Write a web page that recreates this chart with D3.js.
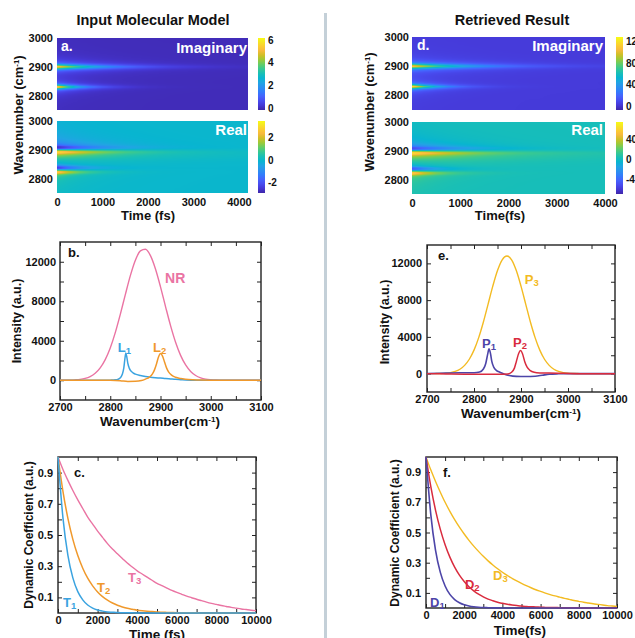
<!DOCTYPE html>
<html>
<head>
<meta charset="utf-8">
<script src="https://cdn.jsdelivr.net/npm/d3@7"></script>
<style>
  body { margin: 0; background: #fff; }
  svg { display: block; }
  text { font-family: "Liberation Sans", Arial, sans-serif; font-weight: bold; }
  .ax text { font-size: 11px; fill: #111; }
</style>
</head>
<body>
<svg id="fig" width="635" height="638"></svg>
<script>
// ---------------- data ----------------
// time grid (fs) for the dynamic coefficients
const dynT = d3.range(0, 10001, 250);
// input model dynamics
const dynT1 = [1.000,0.610,0.370,0.225,0.137,0.084,0.051,0.031,0.019,0.012,0.007,0.005,0.003,0.002,0.001,0.001,
  0,0,0,0,0,0,0,0,0,0,0,0,0,0,0,0,0,0,0,0,0,0,0,0,0];
const dynT2 = [1.000,0.780,0.607,0.472,0.368,0.287,0.223,0.174,0.135,0.105,0.082,0.064,0.050,0.039,0.030,0.024,
  0.018,0.014,0.011,0.009,0.007,0.005,0.004,0.003,0.002,0.002,0.001,0.001,0.001,0,0,0,0,0,0,0,0,0,0,0,0];
const dynT3 = [1.00,0.92,0.85,0.785,0.725,0.67,0.615,0.57,0.525,0.485,0.445,0.41,0.38,0.35,0.32,0.295,0.27,0.25,
  0.23,0.21,0.19,0.175,0.16,0.145,0.132,0.12,0.108,0.098,0.088,0.079,0.07,0.062,0.055,0.048,0.042,0.036,0.031,
  0.026,0.022,0.018,0.015];
// retrieved dynamics
const dynD1 = [1.000,0.620,0.382,0.236,0.146,0.090,0.056,0.035,0.021,0.013,0.008,0.005,0.003,0.002,0.001,0.001,
  0,0,0,0,0,0,0,0,0,0,0,0,0,0,0,0,0,0,0,0,0,0,0,0,0];
const dynD2 = [1.000,0.805,0.647,0.521,0.419,0.337,0.271,0.218,0.176,0.141,0.114,0.092,0.074,0.059,0.048,0.038,
  0.031,0.025,0.020,0.016,0.013,0.010,0.008,0.007,0.005,0.004,0.003,0.003,0.002,0.002,0.001,0.001,0.001,
  0,0,0,0,0,0,0,0];
const dynD3 = [1.000,0.915,0.838,0.767,0.700,0.640,0.585,0.535,0.490,0.448,0.410,0.375,0.342,0.312,0.285,0.260,
  0.237,0.216,0.197,0.179,0.163,0.148,0.134,0.121,0.110,0.099,0.089,0.080,0.072,0.064,0.057,0.050,0.044,0.038,
  0.033,0.028,0.024,0.020,0.016,0.013,0.010];

// spectra (intensity, a.u.)
const specWn = d3.range(2700, 3101, 10);
const nrVal = [0,5,15,40,85,185,370,700,1250,2090,3270,4820,6670,8670,10590,12150,13100,13260,12620,11270,
  9460,7460,5530,3850,2520,1545,890,480,245,115,55,22,9,3,1,0,0,0,0,0,0];
const p3Val = [0,3,8,20,50,115,240,475,900,1565,2560,3920,5620,7570,9520,11220,12390,12800,12390,11220,
  9520,7570,5620,3920,2560,1565,900,475,240,115,50,20,8,3,0,0,0,0,0,0,0];
const l1Wn  = [2700,2790,2800,2810,2815,2820,2824,2827,2829,2831,2833,2835,2838,2842,2846,2850,2860,2870,2880,
  2890,2900,2910,2920,2930,2940,2950,2960,2980,3000,3100];
const l1Val = [0,0,10,40,90,250,600,1250,2100,2750,2350,1700,1200,900,720,620,480,380,310,260,220,170,130,90,
  60,30,12,0,0,0];
const l2Wn  = [2700,2800,2820,2835,2850,2862,2870,2878,2884,2888,2892,2896,2900,2904,2908,2912,2916,2922,2930,
  2940,2950,2965,2980,3000,3100];
const l2Val = [0,0,-40,-120,-110,-30,120,320,650,1050,1650,2350,2700,2450,1850,1250,850,520,300,170,100,45,15,0,0];
const p1Wn  = [2700,2740,2770,2800,2812,2820,2825,2829,2832,2835,2838,2842,2848,2855,2865,2875,2890,2910,2930,
  2945,2960,2980,3000,3100];
const p1Val = [0,60,100,100,180,500,1100,2100,2700,2200,1300,700,330,150,-60,-200,-300,-320,-280,-180,-70,-20,0,0];
const p2Wn  = [2700,2740,2800,2850,2872,2880,2886,2890,2895,2899,2903,2908,2913,2919,2928,2940,2960,2990,3020,3100];
const p2Val = [0,-40,-80,-80,-30,150,600,1300,2200,2520,2200,1300,700,360,150,80,60,30,0,0];

// heat-map line profiles along wavenumber (2750..3000 cm-1, 5 cm-1 rows)
const heatWn = d3.range(2750, 3001, 5);
const imagL1 = [0.03,0.04,0.04,0.05,0.06,0.07,0.09,0.10,0.13,0.17,0.23,0.33,0.50,0.83,1.59,3.54,6.00,3.54,1.59,0.83,
  0.50,0.33,0.23,0.17,0.13,0.10,0.09,0.07,0.06,0.05,0.04,0.04,0.03,0.03,0.03,0.02,0.02,0.02,0.02,0.02,
  0.02,0.01,0.01,0.01,0.01,0.01,0.01,0.01,0.01,0.01,0.01];
const imagL2 = [0.02,0.02,0.02,0.02,0.02,0.02,0.02,0.02,0.03,0.03,0.03,0.03,0.04,0.04,0.04,0.05,0.06,0.06,0.08,0.09,
  0.11,0.13,0.17,0.22,0.29,0.41,0.61,1.00,1.84,3.71,5.60,3.71,1.84,1.00,0.61,0.41,0.29,0.22,0.17,0.13,
  0.11,0.09,0.08,0.07,0.06,0.05,0.05,0.04,0.04,0.03,0.03];
const realL1 = [0.10,0.10,0.12,0.13,0.15,0.17,0.20,0.23,0.27,0.33,0.40,0.52,0.75,1.40,2.70,2.40,0,-2.40,-2.70,-1.40,
  -0.75,-0.52,-0.40,-0.33,-0.27,-0.23,-0.20,-0.17,-0.15,-0.13,-0.12,-0.11,-0.10,-0.09,-0.08,-0.08,-0.07,-0.07,-0.06,-0.06,
  -0.06,-0.05,-0.05,-0.05,-0.05,-0.04,-0.04,-0.04,-0.04,-0.04,-0.04];
const realL2 = [0.05,0.05,0.06,0.06,0.07,0.07,0.08,0.08,0.09,0.10,0.11,0.12,0.13,0.14,0.15,0.17,0.19,0.22,0.25,0.29,
  0.33,0.38,0.45,0.55,0.68,0.88,1.20,1.80,2.80,2.50,0,-2.50,-2.80,-1.80,-1.20,-0.88,-0.68,-0.55,-0.45,-0.38,
  -0.33,-0.29,-0.25,-0.22,-0.19,-0.17,-0.15,-0.14,-0.13,-0.12,-0.11];
const realBand = [0,0,0,0,0,0,0,0,0,0,0,0,0,0,0,0,0,0,0,0,
  0.03,0.06,0.11,0.18,0.27,0.36,0.42,0.45,0.42,0.36,0.27,0.18,0.11,0.06,0.03,0,0,0,0,0,
  0,0,0,0,0,0,0,0,0,0,0];
const retrievedGain = 20;

// tick labels
const heatWnTicks = [2800, 2900, 3000];
const heatTimeTicks = [0, 1000, 2000, 3000, 4000];
const cbarTicksImagL = [0, 2, 4, 6], cbarTicksRealL = [-2, 0, 2];
const cbarTicksImagR = [0, 40, 80, 120], cbarTicksRealR = [-40, 0, 40];
const specTicks = d3.range(2700, 3101, 50);
const intTicks = d3.range(0, 12001, 2000);
const timeTicks = d3.range(0, 10001, 1000);
const coefTicks = [0.1, 0.2, 0.3, 0.4, 0.5, 0.6, 0.7, 0.8, 0.9];

// ---------------- colour map (parula) ----------------
const parula = ["#3e26a8","#4537d5","#484cf0","#4563fd","#327cfc","#2b91ef","#20a5e3","#08b5d0","#19bfb6",
  "#37c893","#64cd66","#9dc937","#d1bf27","#f8ba3d","#fccf30","#f5e924","#f9fb14"];
const parulaPos = [0,4,8,12,16,20,24,28,32,36,40,44,48,52,56,60,63].map(i => i / 63);
const cmap = d3.scaleLinear().domain(parulaPos).range(parula).interpolate(d3.interpolateRgb).clamp(true);
const plain = d3.format("d");

const svg = d3.select("#fig");

function lerp(xs, ys, v) {
  const i = d3.bisectRight(xs, v) - 1;
  if (i < 0) return ys[0];
  if (i >= xs.length - 1) return ys[ys.length - 1];
  const f = (v - xs[i]) / (xs[i + 1] - xs[i]);
  return ys[i] + f * (ys[i + 1] - ys[i]);
}

// heat map: value = offset + sum(profile(wn) * dynamics(t))
function heatmap(x, y, terms, offset, cDomain) {
  const [x0, x1] = x.range(), [y1, y0] = y.range();
  const w = Math.round(x1 - x0), h = Math.round(y1 - y0);
  const cv = document.createElement("canvas");
  cv.width = w; cv.height = h;
  const ctx = cv.getContext("2d");
  const img = ctx.createImageData(w, h);
  const norm = d3.scaleLinear().domain(cDomain).range([0, 1]);
  const cols = d3.range(w).map(i => terms.map(tm => lerp(dynT, tm.dyn, x.invert(x0 + i + 0.5))));
  for (let j = 0; j < h; j++) {
    const wn = y.invert(y0 + j + 0.5);
    const prof = terms.map(tm => lerp(heatWn, tm.profile, wn) * tm.gain);
    for (let i = 0; i < w; i++) {
      let v = offset;
      for (let k = 0; k < terms.length; k++) v += prof[k] * cols[i][k];
      const c = d3.rgb(cmap(norm(v)));
      const p = 4 * (j * w + i);
      img.data[p] = c.r; img.data[p + 1] = c.g; img.data[p + 2] = c.b; img.data[p + 3] = 255;
    }
  }
  ctx.putImageData(img, 0, 0);
  svg.append("image").attr("x", x0).attr("y", y0).attr("width", w).attr("height", h)
    .attr("preserveAspectRatio", "none").attr("href", cv.toDataURL());
}

let gradId = 0;
function colorbar(xL, y, ticks) {
  const id = "cb" + (gradId++);
  const grad = svg.append("defs").append("linearGradient").attr("id", id)
    .attr("x1", 0).attr("y1", 1).attr("x2", 0).attr("y2", 0);
  parula.forEach((c, i) => grad.append("stop").attr("offset", parulaPos[i]).attr("stop-color", c));
  const [yb, yt] = y.range();
  svg.append("rect").attr("x", xL).attr("y", yt).attr("width", 7).attr("height", yb - yt).attr("fill", `url(#${id})`);
  svg.append("g").selectAll("text").data(ticks).join("text")
    .attr("x", xL + 10).attr("y", d => y(d)).attr("dy", "0.35em")
    .style("font-size", "10px").attr("fill", "#111").text(d => d);
}

function heatAxes(x, yTop, yBot, xTicks, pad) {
  [yTop, yBot].forEach(y => {
    svg.append("g").attr("class", "ax").attr("transform", `translate(${x.range()[0]},0)`)
      .call(d3.axisLeft(y).tickValues(heatWnTicks).tickSize(0).tickPadding(pad).tickFormat(plain))
      .call(a => a.select(".domain").remove());
  });
  svg.append("g").attr("class", "ax").attr("transform", `translate(0,${yBot.range()[0]})`)
    .call(d3.axisBottom(x).tickValues(xTicks).tickSize(0).tickPadding(5).tickFormat(plain))
    .call(a => a.select(".domain").remove());
}

function label(x, y, str, opt = {}) {
  return svg.append("text").attr("x", x).attr("y", y).attr("fill", opt.fill || "#111")
    .attr("text-anchor", opt.anchor || "start").style("font-size", (opt.size || 13) + "px").text(str);
}

function wnTitle(x, y, rotate, size, gap) {
  const t = svg.append("text").attr("transform", rotate ? `translate(${x},${y}) rotate(-90)` : `translate(${x},${y})`)
    .attr("text-anchor", "middle").style("font-size", size + "px").attr("fill", "#111");
  t.append("tspan").text(gap ? "Wavenumber (cm" : "Wavenumber(cm");
  t.append("tspan").attr("dy", -4).style("font-size", (size * 0.6) + "px").text("-1");
  t.append("tspan").attr("dy", 4).text(")");
}

function subLabel(x, y, main, sub, color) {
  const t = svg.append("text").attr("x", x).attr("y", y).attr("fill", color).style("font-size", "13px");
  t.append("tspan").text(main);
  t.append("tspan").attr("dy", 2).style("font-size", "9.5px").text(sub);
}

function framedPanel(x, y, xTicks, xFmt, yTicks, yFmt, yPad, xPad) {
  const [L, R] = x.range(), [B, T] = y.range();
  const ax = (gen, tx, ty) => svg.append("g").attr("class", "ax").attr("color", "#222")
    .attr("transform", `translate(${tx},${ty})`).call(gen).call(a => a.select(".domain").remove());
  ax(d3.axisBottom(x).tickValues(xTicks).tickSize(-4).tickPadding(xPad).tickFormat(xFmt), 0, B);
  ax(d3.axisTop(x).tickValues(xTicks).tickSize(-4).tickFormat(""), 0, T);
  ax(d3.axisLeft(y).tickValues(yTicks).tickSize(-4).tickPadding(yPad).tickFormat(yFmt), L, 0);
  ax(d3.axisRight(y).tickValues(yTicks).tickSize(-4).tickFormat(""), R, 0);
  svg.append("rect").attr("x", L).attr("y", T).attr("width", R - L).attr("height", B - T)
    .attr("fill", "none").attr("stroke", "#222").attr("stroke-width", 1.4);
}

function curve(x, y, xs, ys, color, width) {
  const line = d3.line().x((d, i) => x(xs[i])).y(d => y(d)).curve(d3.curveMonotoneX);
  svg.append("path").attr("d", line(ys)).attr("fill", "none").attr("stroke", color)
    .attr("stroke-width", width || 1.4).attr("stroke-linejoin", "round");
}

// ---------------- divider & titles ----------------
svg.append("rect").attr("x", 324).attr("y", 13).attr("width", 3).attr("height", 625).attr("fill", "#c4d0d8");
label(153, 25, "Input Molecular Model", { anchor: "middle", size: 14.5 });
label(512, 25, "Retrieved Result", { anchor: "middle", size: 14.5 });

// ---------------- a. input heat maps ----------------
{
  const x = d3.scaleLinear().domain([0, 4200]).range([57, 248]);
  const yI = d3.scaleLinear().domain([2750, 3000]).range([110, 38]);
  const yR = d3.scaleLinear().domain([2750, 3000]).range([193, 121]);
  heatmap(x, yI, [{ profile: imagL1, dyn: dynT1, gain: 1 }, { profile: imagL2, dyn: dynT2, gain: 1 }], 0, [-0.15, 6.2]);
  heatmap(x, yR, [{ profile: realL1, dyn: dynT1, gain: 1 }, { profile: realL2, dyn: dynT2, gain: 1 },
                  { profile: realBand, dyn: dynT3, gain: 1 }], 0, [-2.9, 3.5]);
  heatAxes(x, yI, yR, heatTimeTicks, 4);
  colorbar(258, d3.scaleLinear().domain([-0.15, 6.2]).range([110, 38]), cbarTicksImagL);
  colorbar(258, d3.scaleLinear().domain([-2.9, 3.5]).range([193, 121]), cbarTicksRealL);
  label(61, 51, "a.", { fill: "#fff", size: 14 });
  label(247, 53, "Imaginary", { fill: "#fff", size: 15, anchor: "end" });
  label(247, 135, "Real", { fill: "#fff", size: 15, anchor: "end" });
  wnTitle(23, 115, true, 13, true);
  label(148, 220, "Time (fs)", { anchor: "middle", size: 13 });
}

// ---------------- d. retrieved heat maps ----------------
{
  const x = d3.scaleLinear().domain([0, 4000]).range([412, 605]);
  const yI = d3.scaleLinear().domain([2750, 3000]).range([110, 37]);
  const yR = d3.scaleLinear().domain([2750, 3000]).range([194, 122]);
  heatmap(x, yI, [{ profile: imagL1, dyn: dynD1, gain: retrievedGain }, { profile: imagL2, dyn: dynD2, gain: retrievedGain }], 3, [-7, 129]);
  heatmap(x, yR, [{ profile: realL1, dyn: dynD1, gain: retrievedGain }, { profile: realL2, dyn: dynD2, gain: retrievedGain },
                  { profile: realBand, dyn: dynD3, gain: retrievedGain }], 3, [-68, 74]);
  heatAxes(x, yI, yR, heatTimeTicks, 3);
  colorbar(616, d3.scaleLinear().domain([-7, 129]).range([110, 37]), cbarTicksImagR);
  colorbar(616, d3.scaleLinear().domain([-68, 74]).range([194, 122]), cbarTicksRealR);
  label(417, 50, "d.", { fill: "#fff", size: 14 });
  label(603, 51, "Imaginary", { fill: "#fff", size: 15, anchor: "end" });
  label(603, 135, "Real", { fill: "#fff", size: 15, anchor: "end" });
  wnTitle(374, 112, true, 13, true);
  label(500, 220, "Time(fs)", { anchor: "middle", size: 13 });
}

// ---------------- b. input spectra ----------------
{
  const x = d3.scaleLinear().domain([2700, 3100]).range([60, 261]);
  const y = d3.scaleLinear().domain([-2000, 14000]).range([400, 242]);
  framedPanel(x, y, specTicks, d => d % 100 === 0 ? d : "", intTicks, d => d % 4000 === 0 ? d : "", 4, 3);
  curve(x, y, specWn, nrVal, "#ea74a3", 1.4);
  curve(x, y, l1Wn, l1Val, "#3aa3e0", 1.5);
  curve(x, y, l2Wn, l2Val, "#f0992c", 1.5);
  label(68, 257, "b.", { size: 13 });
  label(x(2909), y(9800), "NR", { fill: "#ea74a3", size: 14 });
  subLabel(x(2815), y(2900), "L", "1", "#3aa3e0");
  subLabel(x(2885), y(2900), "L", "2", "#f0992c");
  svg.append("text").attr("transform", `translate(21,321) rotate(-90)`).attr("text-anchor", "middle")
    .style("font-size", "12.5px").attr("fill", "#111").text("Intensity (a.u.)");
  wnTitle(160, 426, false, 13.5, false);
}

// ---------------- e. retrieved spectra ----------------
{
  const x = d3.scaleLinear().domain([2700, 3100]).range([427, 615]);
  const y = d3.scaleLinear().domain([-2000, 14000]).range([392, 245]);
  framedPanel(x, y, specTicks, d => d % 100 === 0 ? d : "", intTicks, d => d % 4000 === 0 ? d : "", 5, 3);
  curve(x, y, specWn, p3Val, "#f3bb22", 1.4);
  curve(x, y, p1Wn, p1Val, "#4d45a8", 1.6);
  curve(x, y, p2Wn, p2Val, "#d92b3e", 1.5);
  label(438, 260, "e.", { size: 13 });
  subLabel(x(2908), y(9730), "P", "3", "#f3bb22");
  subLabel(x(2817), y(2810), "P", "1", "#4d45a8");
  subLabel(x(2883), y(2920), "P", "2", "#d92b3e");
  svg.append("text").attr("transform", `translate(389,322) rotate(-90)`).attr("text-anchor", "middle")
    .style("font-size", "12.5px").attr("fill", "#111").text("Intensity (a.u.)");
  wnTitle(521, 418, false, 13.5, false);
}

// ---------------- c. input dynamics ----------------
{
  const x = d3.scaleLinear().domain([0, 10000]).range([58, 256]);
  const y = d3.scaleLinear().domain([0, 1]).range([613, 457]);
  framedPanel(x, y, timeTicks, d => d % 2000 === 0 ? d : "", coefTicks,
    d => Math.round(d * 10) % 2 === 1 ? d3.format(".1f")(d) : "", 5, 3);
  curve(x, y, dynT, dynT3, "#ea74a3", 1.4);
  curve(x, y, dynT, dynT2, "#f0992c", 1.5);
  curve(x, y, dynT, dynT1, "#3aa3e0", 1.5);
  label(74, 477, "c.", { size: 13 });
  subLabel(x(250), y(0.04), "T", "1", "#3aa3e0");
  subLabel(x(1970), y(0.135), "T", "2", "#f0992c");
  subLabel(x(3535), y(0.2), "T", "3", "#ea74a3");
  svg.append("text").attr("transform", `translate(33,535) rotate(-90)`).attr("text-anchor", "middle")
    .style("font-size", "12px").attr("fill", "#111").text("Dynamic Coefficient (a.u.)");
  label(157, 639, "Time (fs)", { anchor: "middle", size: 13.5 });
}

// ---------------- f. retrieved dynamics ----------------
{
  const x = d3.scaleLinear().domain([0, 10000]).range([426, 617]);
  const y = d3.scaleLinear().domain([0, 1]).range([608, 457]);
  framedPanel(x, y, timeTicks, d => d % 2000 === 0 ? d : "", coefTicks,
    d => Math.round(d * 10) % 2 === 1 ? d3.format(".1f")(d) : "", 5, 3);
  curve(x, y, dynT, dynD3, "#f3bb22", 1.4);
  curve(x, y, dynT, dynD2, "#d92b3e", 1.5);
  curve(x, y, dynT, dynD1, "#4d45a8", 1.6);
  label(443, 477, "f.", { size: 13 });
  subLabel(x(210), y(0.007), "D", "1", "#4d45a8");
  subLabel(x(2040), y(0.126), "D", "2", "#d92b3e");
  subLabel(x(3510), y(0.185), "D", "3", "#f3bb22");
  svg.append("text").attr("transform", `translate(399,533) rotate(-90)`).attr("text-anchor", "middle")
    .style("font-size", "12px").attr("fill", "#111").text("Dynamic Coefficient (a.u.)");
  label(520, 635, "Time(fs)", { anchor: "middle", size: 13.5 });
}
</script>
</body>
</html>
